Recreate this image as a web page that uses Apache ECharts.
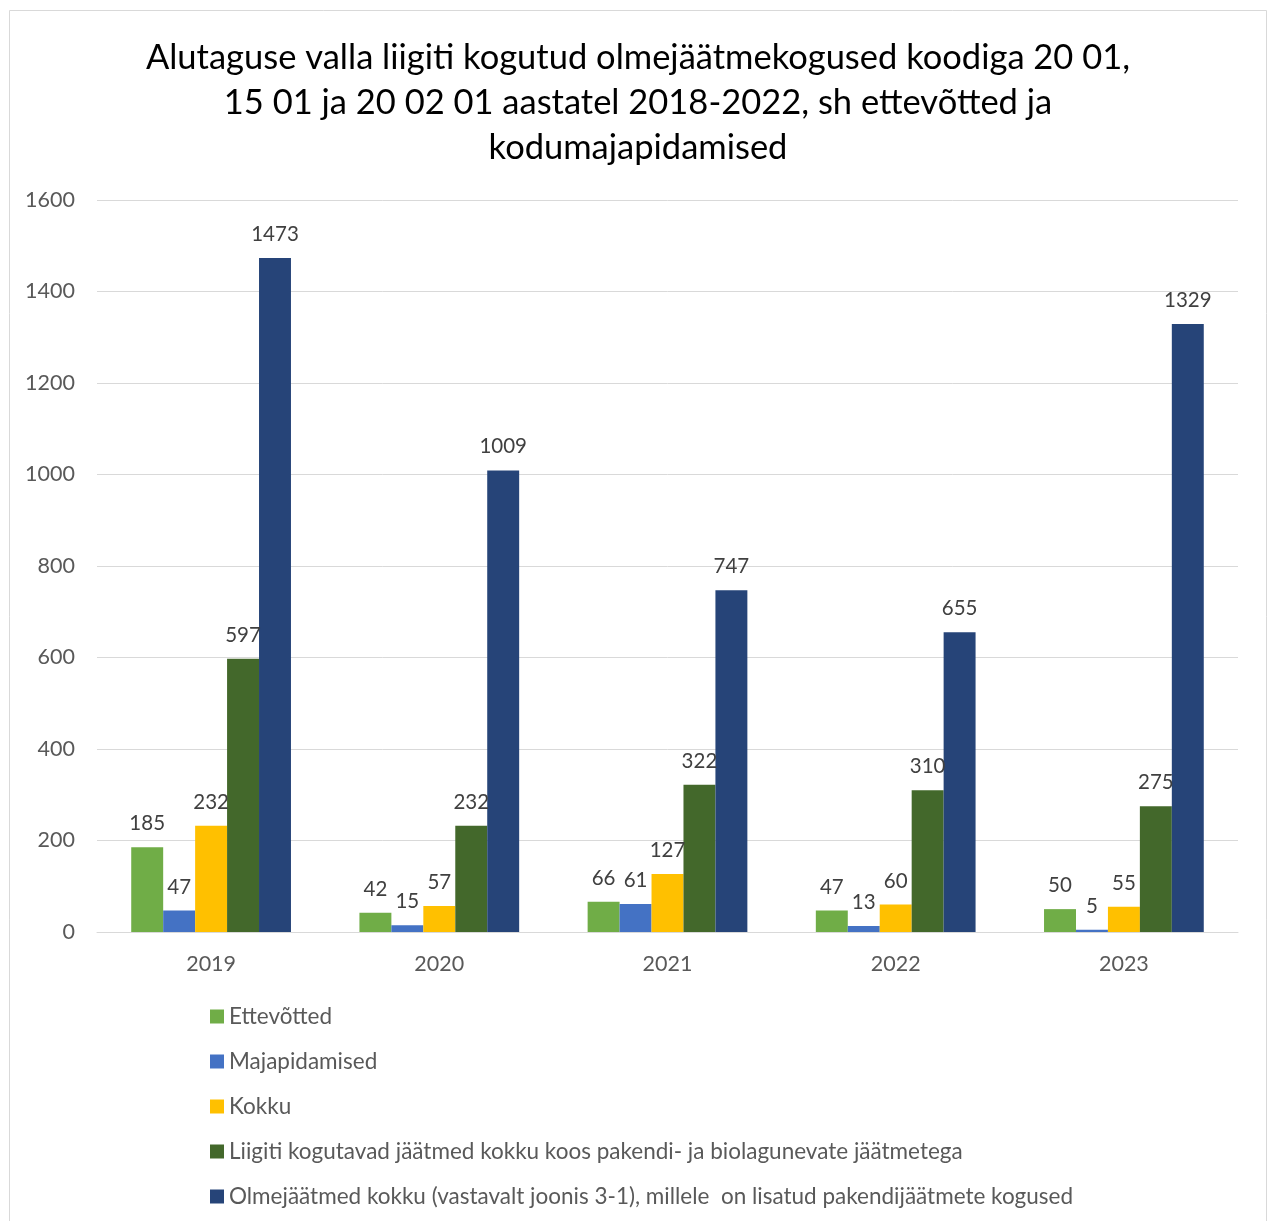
<!DOCTYPE html>
<html><head><meta charset="utf-8">
<script src="https://cdn.jsdelivr.net/npm/echarts@6/dist/echarts.min.js"></script>
<style>html,body{margin:0;padding:0;background:#fff}#c{width:1273px;height:1221px}</style>
</head><body><div id="c"></div>
<script>
const categories = ['2019','2020','2021','2022','2023'];
const seriesNames = [
  'Ettevõtted',
  'Majapidamised',
  'Kokku',
  'Liigiti kogutavad jäätmed kokku koos pakendi- ja biolagunevate jäätmetega',
  'Olmejäätmed kokku (vastavalt joonis 3-1), millele  on lisatud pakendijäätmete kogused'
];
const ettevotted = [185, 42, 66, 47, 50];
const majapidamised = [47, 15, 61, 13, 5];
const kokku = [232, 57, 127, 60, 55];
const liigiti = [597, 232, 322, 310, 275];
const olme = [1473, 1009, 747, 655, 1329];
const yTicks = [0, 200, 400, 600, 800, 1000, 1200, 1400, 1600];
const titleText = 'Alutaguse valla liigiti kogutud olmejäätmekogused koodiga 20 01,\n15 01 ja 20 02 01 aastatel 2018-2022, sh ettevõtted ja\nkodumajapidamised';
const colors = ['#70AD47', '#4472C4', '#FFC000', '#43682B', '#264478'];
const seriesData = [ettevotted, majapidamised, kokku, liigiti, olme];
const FONT = 'Lato';

const chart = echarts.init(document.getElementById('c'), null, {renderer: 'canvas'});
chart.setOption({
  animation: false,
  backgroundColor: '#fff',
  textStyle: {fontFamily: FONT},
  graphic: [{
    type: 'rect', shape: {x: 9.5, y: 10.5, width: 1257, height: 1220},
    style: {fill: 'none', stroke: '#d9d9d9', lineWidth: 1}, silent: true
  }, {
    type: 'text', x: 638, y: 35, silent: true,
    style: {text: titleText, fontFamily: FONT, fontSize: 34.5, fill: '#000', lineHeight: 45, align: 'center', verticalAlign: 'top'}
  }],
  legend: {
    orient: 'vertical', left: 210, top: 1005, height: 400, padding: 0,
    itemWidth: 14, itemHeight: 14, itemGap: 22,
    icon: 'rect',
    textStyle: {fontFamily: FONT, fontSize: 22.5, color: '#595959', lineHeight: 22, padding: [0,0,0,0]},
    data: seriesNames
  },
  grid: {left: 97, right: 35, top: 200, bottom: 289, containLabel: false},
  xAxis: {
    type: 'category', data: categories,
    axisLine: {lineStyle: {color: '#d9d9d9', width: 1}},
    axisTick: {show: false},
    axisLabel: {fontFamily: FONT, fontSize: 21.5, color: '#595959', margin: 21}
  },
  yAxis: {
    type: 'value', min: yTicks[0], max: yTicks[yTicks.length-1], interval: 200,
    axisLine: {show: false}, axisTick: {show: false},
    splitLine: {lineStyle: {color: '#d9d9d9', width: 1}},
    axisLabel: {fontFamily: FONT, fontSize: 21.5, color: '#595959', margin: 22, formatter: v => String(v)}
  },
  series: seriesData.map((d, i) => ({
    name: seriesNames[i], type: 'bar', data: d,
    barGap: '0%', barCategoryGap: '30%',
    itemStyle: {color: colors[i]},
    label: {show: true, position: 'top', distance: 13, fontFamily: FONT, fontSize: 20.5, color: '#404040'}
  }))
});
</script></body></html>
